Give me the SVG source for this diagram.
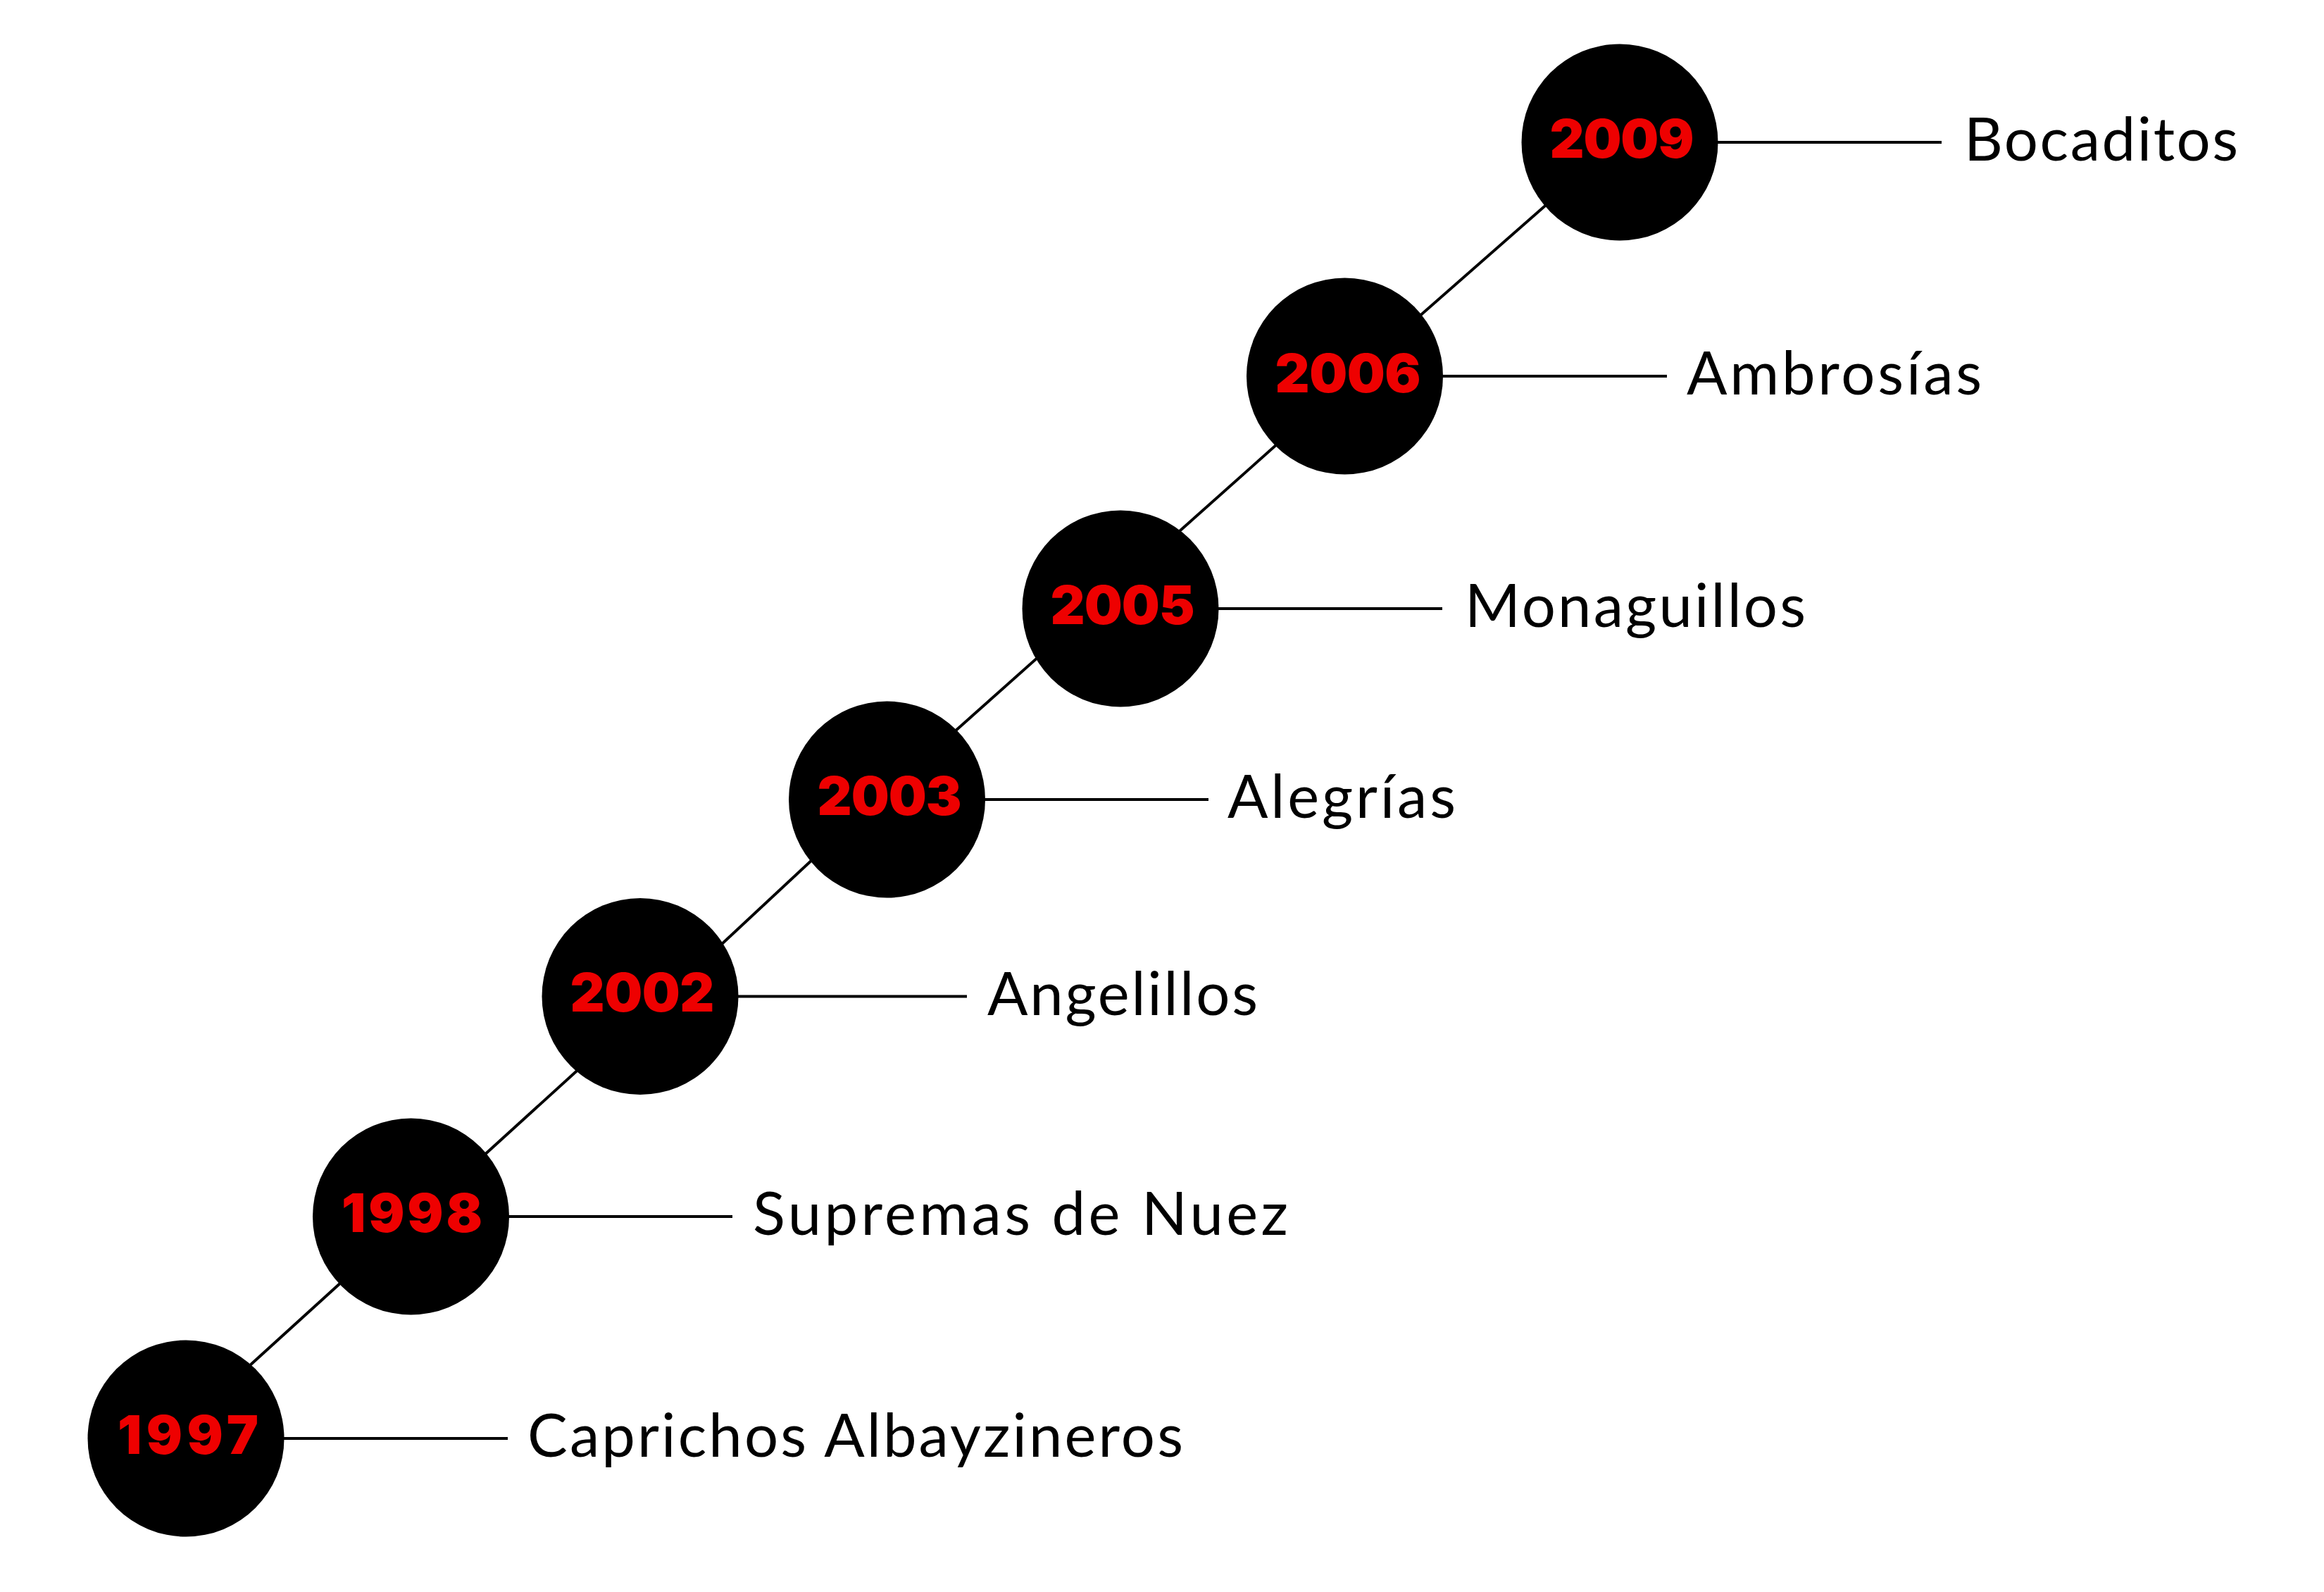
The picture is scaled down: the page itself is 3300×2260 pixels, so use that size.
<svg xmlns="http://www.w3.org/2000/svg" width="3300" height="2260" viewBox="0 0 3300 2260">
<style>
.c{fill:#000}
.ln{stroke:#000;stroke-width:4;fill:none}
.yr{font-family:Inter,"Liberation Sans",sans-serif;font-weight:900;font-size:76px;fill:#ee0000;text-anchor:middle}
.lb{font-family:Lato,"Liberation Sans",sans-serif;font-weight:400;font-size:85px;fill:#000}
</style>
<rect width="3300" height="2260" fill="#fff"/>
<g id="connectors">
<line class="ln" x1="1955" y1="502" x2="2250" y2="243"/>
<line class="ln" x1="1630" y1="794" x2="1860" y2="589"/>
<line class="ln" x1="1300" y1="1088" x2="1530" y2="883"/>
<line class="ln" x1="965" y1="1396" x2="1200" y2="1177"/>
<line class="ln" x1="640" y1="1683" x2="860" y2="1483"/>
<line class="ln" x1="310" y1="1979" x2="530" y2="1779"/>
<line class="ln" x1="2300" y1="202" x2="2757" y2="202"/>
<line class="ln" x1="1909.5" y1="534" x2="2367" y2="534"/>
<line class="ln" x1="1591" y1="864" x2="2048" y2="864"/>
<line class="ln" x1="1259.5" y1="1135" x2="1716" y2="1135"/>
<line class="ln" x1="909" y1="1414.5" x2="1373" y2="1414.5"/>
<line class="ln" x1="583.5" y1="1727" x2="1040" y2="1727"/>
<line class="ln" x1="264" y1="2042" x2="721" y2="2042"/>
</g>
<g id="n2009"><circle class="c" cx="2300" cy="202" r="139.5"/><text class="yr" x="2303" y="224" textLength="205">2009</text><text class="lb" x="2789" y="228" textLength="389">Bocaditos</text></g>
<g id="n2006"><circle class="c" cx="1909.5" cy="534" r="139.5"/><text class="yr" x="1914" y="557" textLength="207">2006</text><text class="lb" x="2395" y="560" textLength="419">Ambrosías</text></g>
<g id="n2005"><circle class="c" cx="1591" cy="864" r="139.5"/><text class="yr" x="1594" y="886" textLength="205">2005</text><text class="lb" x="2080" y="890" textLength="484">Monaguillos</text></g>
<g id="n2003"><circle class="c" cx="1259.5" cy="1135" r="139.5"/><text class="yr" x="1263" y="1157" textLength="205">2003</text><text class="lb" x="1743" y="1161" textLength="324">Alegrías</text></g>
<g id="n2002"><circle class="c" cx="909" cy="1414.5" r="139.5"/><text class="yr" x="912" y="1436" textLength="205">2002</text><text class="lb" x="1402" y="1441" textLength="384">Angelillos</text></g>
<g id="n1998"><circle class="c" cx="583.5" cy="1727" r="139.5"/><text class="yr" x="585" y="1749" textLength="200">1998</text><text class="lb" x="1069" y="1753" textLength="760">Supremas de Nuez</text></g>
<g id="n1997"><circle class="c" cx="264" cy="2042" r="139.5"/><text class="yr" x="267" y="2064" textLength="200">1997</text><text class="lb" x="749" y="2068" textLength="931">Caprichos Albayzineros</text></g>
</svg>
